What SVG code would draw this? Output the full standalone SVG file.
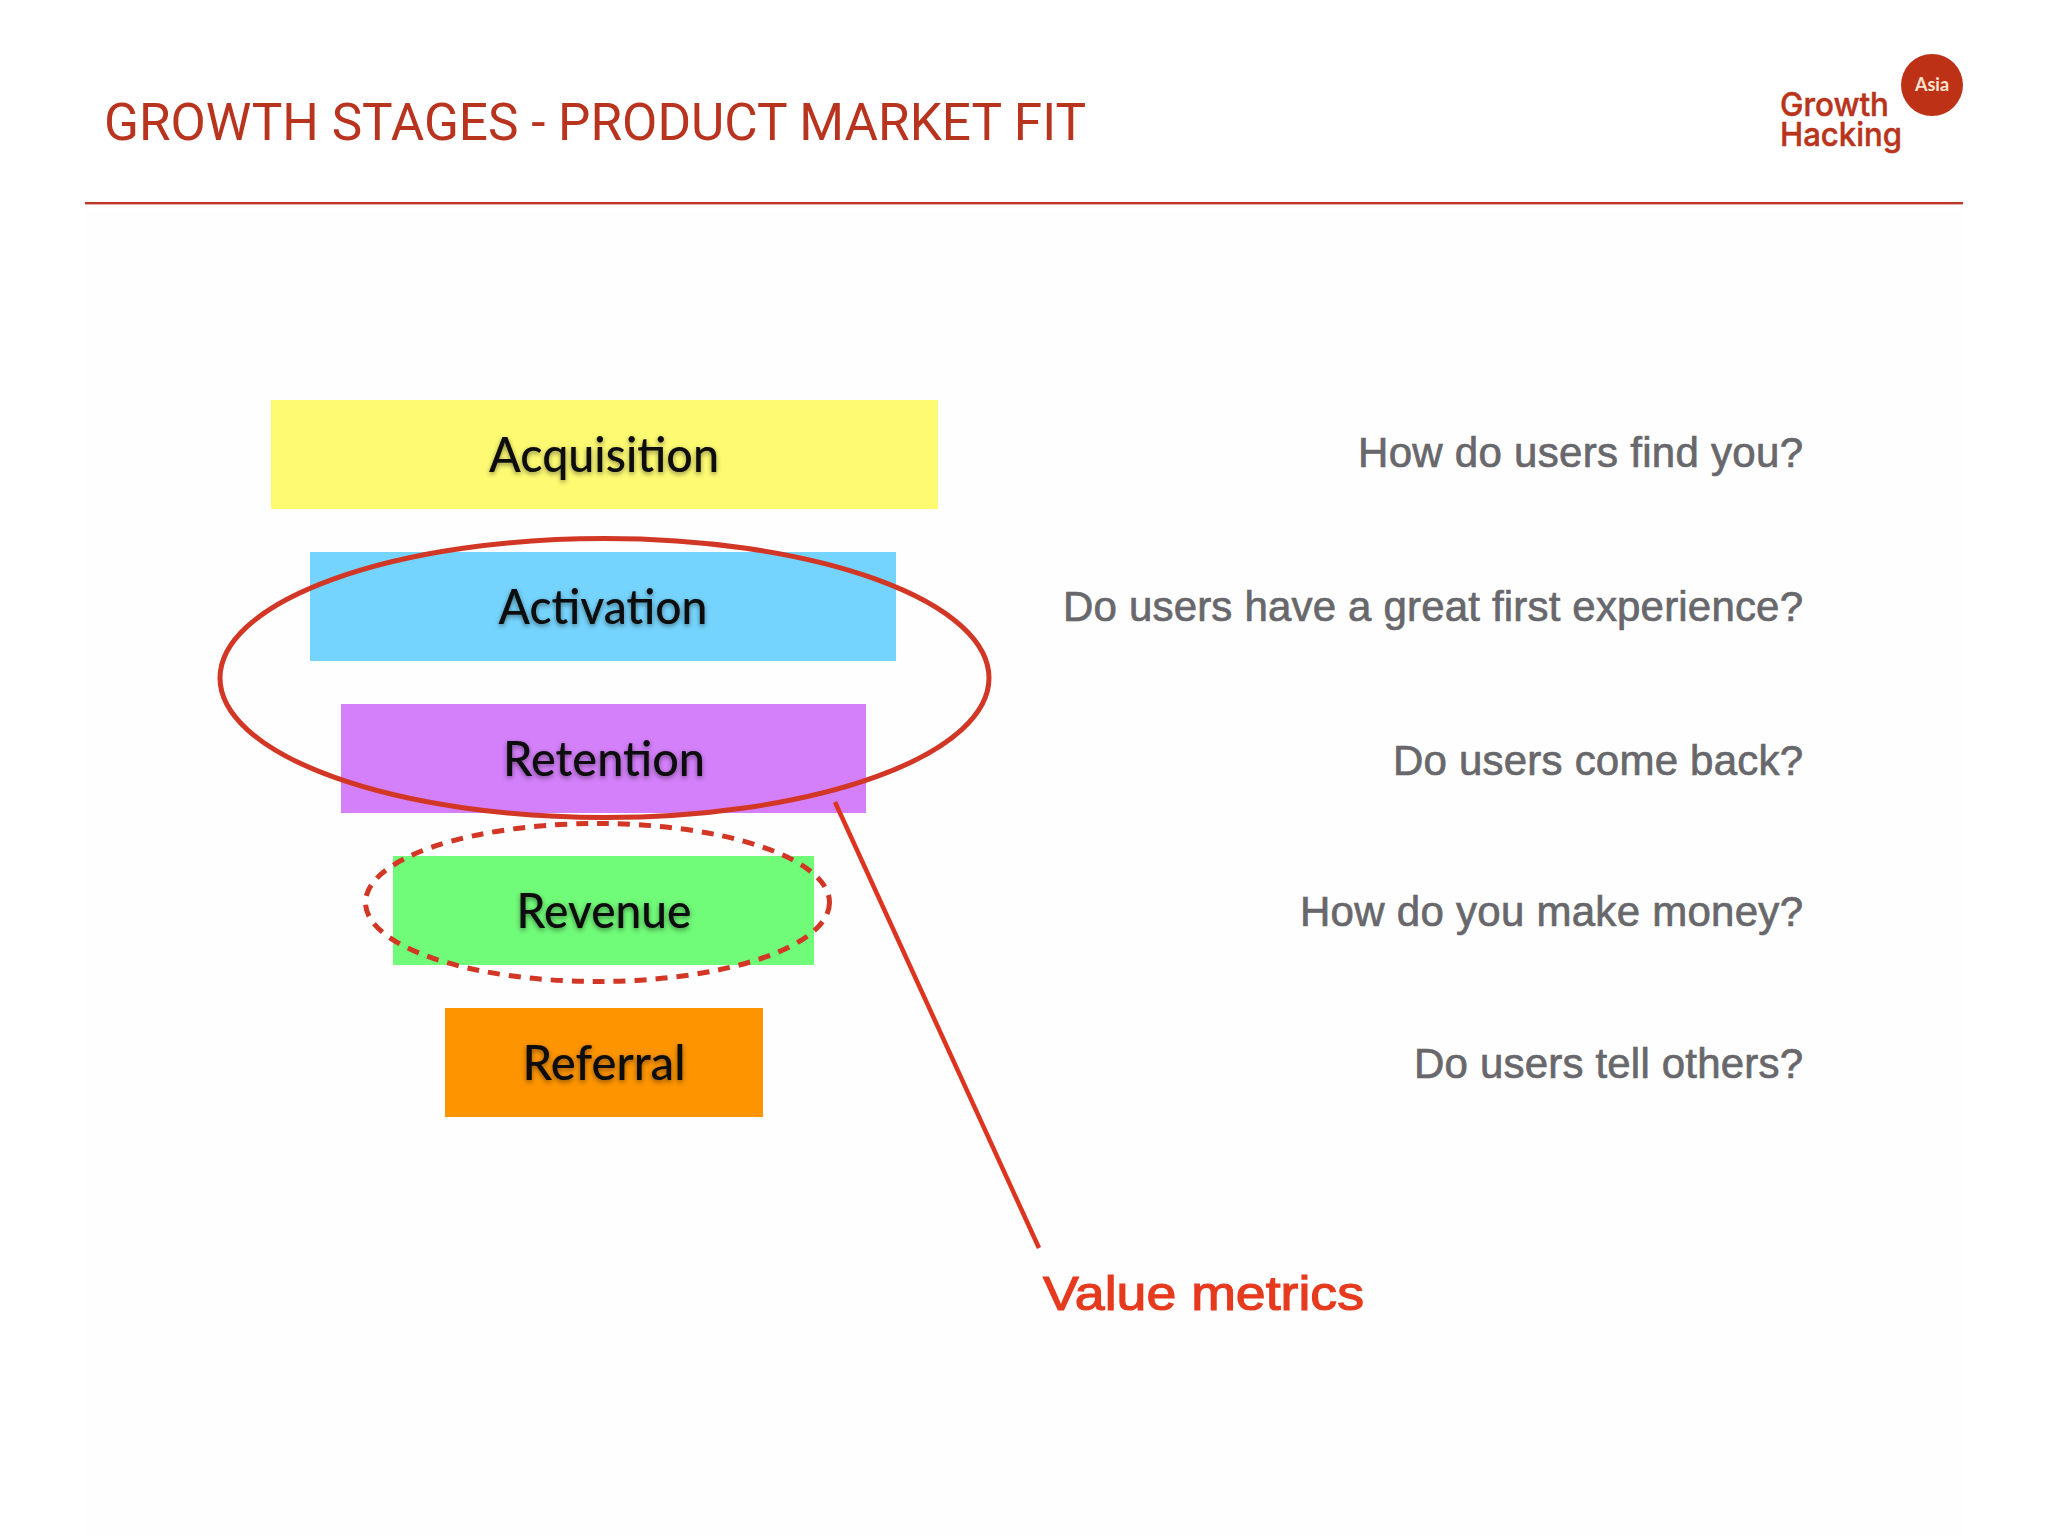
<svg xmlns="http://www.w3.org/2000/svg" width="2048" height="1536" viewBox="0 0 2048 1536">
<defs>
<style>
.stage{font-family:"Lato","Liberation Sans",sans-serif;font-size:48px;font-weight:500;fill:#0a0a0a;text-anchor:middle;filter:url(#soft)}
.q{font-family:"Liberation Sans",Arial,sans-serif;font-size:42px;fill:#68686c;stroke:#68686c;stroke-width:.7;text-anchor:end}
.logo{font-family:"Inter","Liberation Sans",sans-serif;font-size:33px;font-weight:500;fill:#b9341c;stroke:#b9341c;stroke-width:.5}
.ring{fill:none;stroke:#d23625}
</style>
<filter id="soft" x="-10%" y="-20%" width="120%" height="150%"><feDropShadow dx="0" dy="2" stdDeviation="2.5" flood-color="#000" flood-opacity=".45"/></filter>
</defs>
<rect width="2048" height="1536" fill="#ffffff"/>
<rect x="85" y="210" width="1880" height="1326" fill="#fefefe"/>
<g id="header">
<text x="104" y="140" font-family="Roboto,'Liberation Sans',sans-serif" font-size="52" fill="#b9341f" textLength="982" lengthAdjust="spacingAndGlyphs">GROWTH STAGES - PRODUCT MARKET FIT</text>
<rect x="85" y="202" width="1878" height="2.4" fill="#bf3524"/>
</g>
<g id="logo">
<circle cx="1932" cy="85" r="31" fill="#bd3216"/>
<text x="1932" y="91" font-family="Lato,'Liberation Sans',sans-serif" font-size="18" font-weight="700" fill="#fbe3d0" text-anchor="middle">Asia</text>
<text class="logo" x="1780" y="116" textLength="109" lengthAdjust="spacingAndGlyphs">Growth</text>
<text class="logo" x="1780" y="146" textLength="122" lengthAdjust="spacingAndGlyphs">Hacking</text>
</g>
<g id="acquisition"><rect x="271" y="400" width="667" height="109" fill="#fefb72"/><text class="stage" x="604" y="472" textLength="230" lengthAdjust="spacingAndGlyphs">Acquisition</text></g>
<g id="activation"><rect x="310" y="552" width="586" height="109" fill="#75d4fd"/><text class="stage" x="603" y="624" textLength="209" lengthAdjust="spacingAndGlyphs">Activation</text></g>
<g id="retention"><rect x="341" y="704" width="525" height="109" fill="#d580fb"/><text class="stage" x="604" y="776" textLength="202" lengthAdjust="spacingAndGlyphs">Retention</text></g>
<g id="revenue"><rect x="393" y="856" width="421" height="109" fill="#70fb78"/><text class="stage" x="604" y="928" textLength="175" lengthAdjust="spacingAndGlyphs">Revenue</text></g>
<g id="referral"><rect x="445" y="1008" width="318" height="109" fill="#fd9400"/><text class="stage" x="604" y="1080" textLength="163" lengthAdjust="spacingAndGlyphs">Referral</text></g>
<g id="connectors">
<ellipse class="ring" stroke-width="5" cx="604.5" cy="678" rx="384.5" ry="139.5"/>
<ellipse class="ring" stroke-width="5" cx="597.5" cy="902.5" rx="232" ry="79" stroke-dasharray="12 9"/>
<line x1="835" y1="802" x2="1039" y2="1248" stroke="#dd3420" stroke-width="4.5"/>
</g>
<g id="questions">
<text class="q" x="1803" y="467" textLength="445" lengthAdjust="spacing">How do users find you?</text>
<text class="q" x="1803" y="621" textLength="740" lengthAdjust="spacing">Do users have a great first experience?</text>
<text class="q" x="1803" y="775" textLength="410" lengthAdjust="spacing">Do users come back?</text>
<text class="q" x="1803" y="926" textLength="503" lengthAdjust="spacing">How do you make money?</text>
<text class="q" x="1803" y="1078" textLength="389" lengthAdjust="spacing">Do users tell others?</text>
</g>
<g id="value-metrics"><text x="1043" y="1310" font-family="'Liberation Sans',Arial,sans-serif" font-size="49" fill="#e63a1e" stroke="#e63a1e" stroke-width="1.2" textLength="321" lengthAdjust="spacingAndGlyphs">Value metrics</text></g>
</svg>
